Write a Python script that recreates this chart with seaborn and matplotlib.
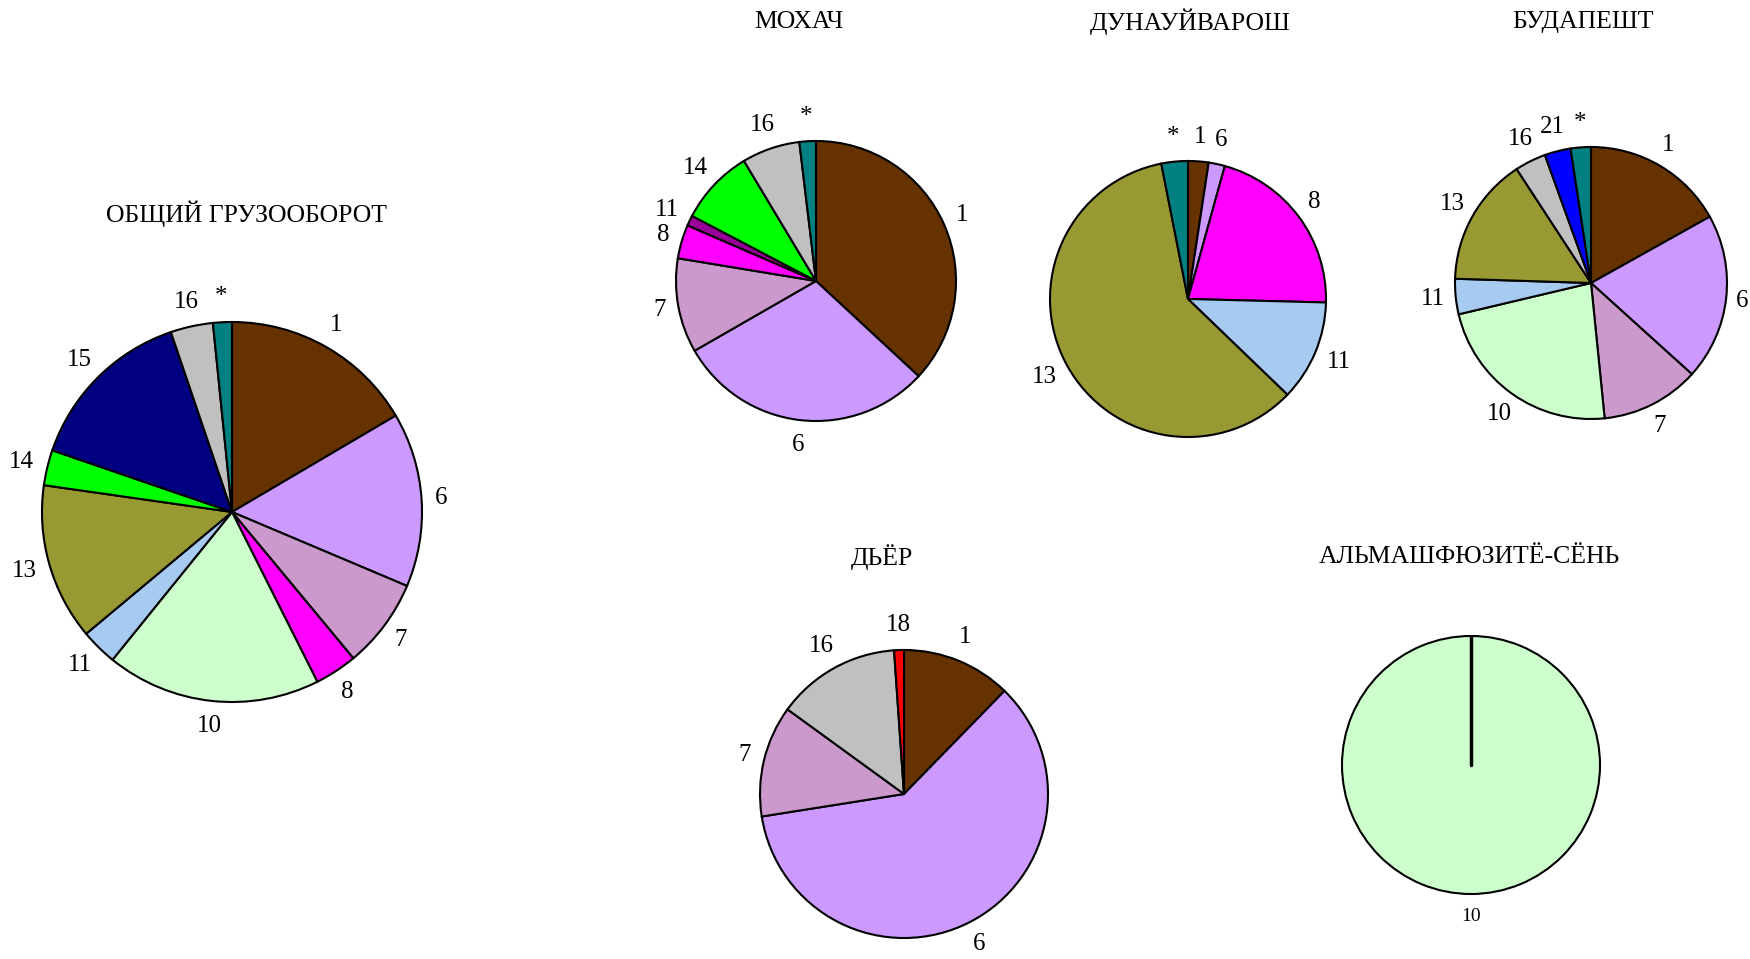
import numpy as np
import matplotlib.pyplot as plt
import seaborn as sns
from matplotlib.transforms import offset_copy

sns.set_theme(style="white")
plt.rcParams['font.family'] = ['Liberation Serif', 'DejaVu Serif']

# cargo groups, clockwise from 12 o'clock, shares in %
total_labels = ['1', '6', '7', '8', '10', '11', '13', '14', '15', '16', '*']
total_values = [16.5, 14.8, 7.6, 3.6, 18.2, 3.1, 13.3, 3.0, 14.5, 3.6, 1.6]

mohacs_labels = ['1', '6', '7', '8', '11', '14', '16', '*']
mohacs_values = [36.9, 29.8, 10.9, 3.9, 1.2, 8.7, 6.7, 1.9]

duna_labels = ['1', '6', '8', '11', '13', '*']
duna_values = [2.4, 1.9, 21.1, 11.8, 59.7, 3.1]

budapest_labels = ['1', '6', '7', '10', '11', '13', '16', '21', '*']
budapest_values = [16.9, 19.8, 11.7, 22.9, 4.2, 15.3, 3.7, 3.1, 2.4]

gyor_labels = ['1', '6', '7', '16', '18']
gyor_values = [12.3, 60.2, 12.5, 13.9, 1.1]

almas_labels = ['10']
almas_values = [100.0]

colors = {
    '1': '#663300', '6': '#cc99ff', '7': '#cc99cc', '8': '#ff00ff',
    '10': '#ccffcc', '11': '#a6caf0', '13': '#999933', '14': '#00ff00',
    '15': '#000080', '16': '#c0c0c0', '18': '#ff0000', '21': '#0000ff',
    '*': '#008080',
}

W, H = 1750, 959
fig = plt.figure(figsize=(W / 100, H / 100), dpi=100)


def draw_pie(labels, values, title, cx, cy, r, tx, ty, fs=18, gap=1.09, yoff=0.48,
             override=None):
    # axes box in pixels around the pie centre
    ax = fig.add_axes([(cx - r) / W, 1 - (cy + r) / H, 2 * r / W, 2 * r / H])
    cols = [colors[l] for l in labels]
    if override:
        cols = [override.get(l, c) for l, c in zip(labels, cols)]
    wedges, texts = ax.pie(values, labels=labels, colors=cols, startangle=90,
                           counterclock=False,
                           wedgeprops=dict(edgecolor='black', linewidth=1.5),
                           textprops=dict(fontsize=fs, color='black'))
    # push each label out so its box sits just outside the rim
    for w, t, lab in zip(wedges, texts, labels):
        a = np.deg2rad((w.theta1 + w.theta2) / 2)
        c, s = np.cos(a), np.sin(a)
        t.set_position((gap * c, gap * s))
        t.set_ha('center')
        t.set_va('center')
        t.set_transform(offset_copy(ax.transData, fig=fig, units='points',
                                    x=0.26 * fs * len(lab) * c, y=yoff * fs * s))
    ax.set_xlim(-1, 1)
    ax.set_ylim(-1, 1)
    ax.axis('off')
    fig.text(tx / W, 1 - ty / H, title, ha='center', va='center', fontsize=18.5,
             color='black')
    return ax


draw_pie(total_labels, total_values, 'ОБЩИЙ ГРУЗООБОРОТ', 232, 512, 190, 246, 214,
         gap=1.07)
draw_pie(mohacs_labels, mohacs_values, 'МОХАЧ', 816, 281, 140, 799, 22,
         override={'11': '#990099'})
draw_pie(duna_labels, duna_values, 'ДУНАУЙВАРОШ', 1188, 299, 138, 1190, 22)
draw_pie(budapest_labels, budapest_values, 'БУДАПЕШТ', 1591, 283, 136, 1583, 22,
         gap=1.07, yoff=0.6)
draw_pie(gyor_labels, gyor_values, 'ДЬЁР', 904, 794, 144, 882, 557)
ax = draw_pie(almas_labels, almas_values, 'АЛЬМАШФЮЗИТЁ-СЁНЬ', 1471, 765, 129,
              1469, 557, fs=14, gap=1.1)
ax.plot([0, 0], [0, 1], color='black', lw=2.5)

fig.savefig('out.png', dpi=100, facecolor='white')
